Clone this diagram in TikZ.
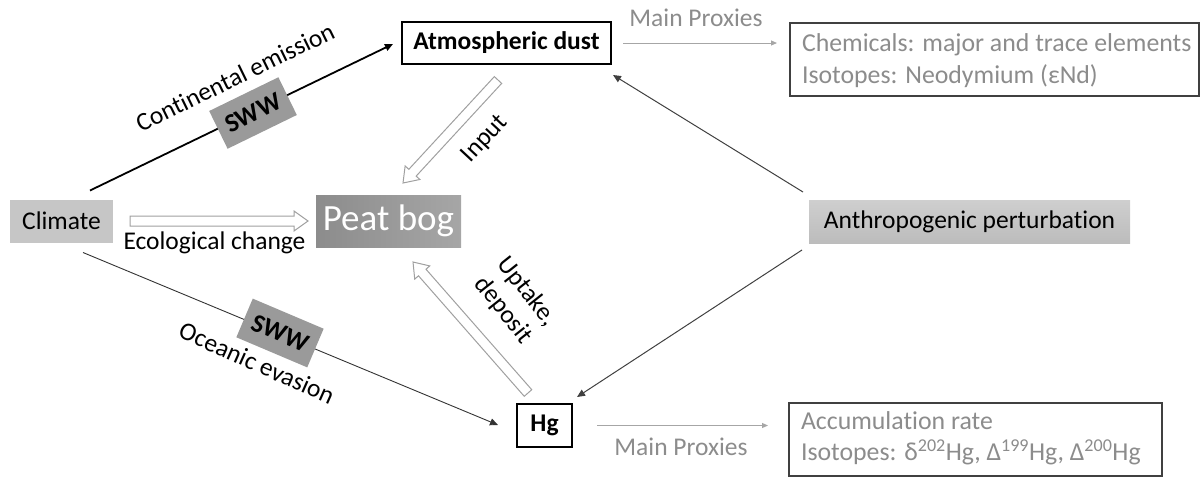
\documentclass[tikz,border=0pt]{standalone}
\usepackage{fontspec}
\setmainfont{Carlito}[Ligatures=NoCommon]
\usetikzlibrary{calc,arrows.meta}
\definecolor{boxgray}{HTML}{C6C6C6}
\definecolor{peatL}{HTML}{8C8C8C}
\definecolor{peatR}{HTML}{A6A6A6}
\definecolor{swwgray}{HTML}{9A9A9A}
\definecolor{proxytext}{HTML}{8C8C8C}
\definecolor{proxyline}{HTML}{A6A6A6}
\definecolor{hollowline}{HTML}{A0A0A0}
\newcommand{\hollowarr}[2]{%
  \coordinate (ha-s) at #1;
  \coordinate (ha-e) at #2;
  \coordinate (ha-h) at ($(ha-e)!14pt!(ha-s)$);
  \draw[hollow] ($(ha-s)!5pt!90:(ha-e)$) -- ($(ha-h)!5pt!-90:(ha-s)$) -- ($(ha-h)!10pt!-90:(ha-s)$) -- (ha-e) -- ($(ha-h)!10pt!90:(ha-s)$) -- ($(ha-h)!5pt!90:(ha-s)$) -- ($(ha-s)!5pt!-90:(ha-e)$) -- cycle;}
\begin{document}
\begin{tikzpicture}[x=1pt,y=-1pt,
  font=\fontsize{25.5}{30}\selectfont,
  every node/.style={inner sep=0pt, outer sep=0pt},
  graybox/.style={fill=boxgray, minimum height=43pt, text=black},
  whitebox/.style={draw=black, line width=1.1pt, fill=white, minimum height=42pt, font=\fontsize{25.5}{28}\selectfont\bfseries},
  proxybox/.style={draw=black!75, line width=1.1pt, fill=white, minimum height=73pt, anchor=west},
  proxytxt/.style={align=left, text=proxytext, anchor=west, font=\fontsize{25.8}{31.5}\selectfont},
  swwbox/.style={fill=swwgray, minimum width=77pt, minimum height=42pt, font=\fontsize{26}{28}\selectfont\bfseries},
  hollow/.style={draw=hollowline, line width=1pt, fill=white, line join=miter},
  thinarrow/.style={-{Triangle[length=8pt,width=7pt]}},
  proxyarrow/.style={draw=proxyline, line width=1pt, -{Triangle[length=6pt,width=5pt]}},
  lbl/.style={text=black}
]
\useasboundingbox (0,0) rectangle (1203,477);

% nodes
\node[graybox, minimum width=103pt] (climate) at (61.5,221) {Climate};
\node[minimum width=145pt, minimum height=52pt, left color=peatL, right color=peatR, text=white, font=\fontsize{37}{40}\selectfont] (peat) at (388.5,221) {Peat bog};
\node[whitebox, minimum width=209pt] (dust) at (506.5,43) {Atmospheric dust};
\node[proxybox, minimum width=409pt] (chem) at (790,59.5) {};
\node[proxytxt] (chemtxt) at ($(chem.west)+(12,1)$) {Chemicals: major and trace elements\\Isotopes: Neodymium (εNd)};
\node[graybox, minimum width=321pt, top color=boxgray!85!white, bottom color=boxgray!95!black] (anthro) at (969.5,221.5) {Anthropogenic perturbation};
\node[whitebox, minimum width=55pt, minimum height=43pt] (hg) at (544.5,425.5) {Hg};
\node[proxybox, minimum width=373pt] (accum) at (789,439.5) {};
\node[proxytxt] (accumtxt) at ($(accum.west)+(12,-1)$) {Accumulation rate\\Isotopes: δ\textsuperscript{202}Hg, Δ\textsuperscript{199}Hg, Δ\textsuperscript{200}Hg};

% thin connectors
\draw[thinarrow, line width=1.8pt] ($(climate.north)+(28.5,-9)$) -- ($(dust.west)+(-9,1)$);
\draw[thinarrow, line width=0.9pt, draw=black!80] ($(climate.south)+(21.5,10)$) -- ($(hg.west)+(-19,-0.5)$);
\draw[thinarrow, line width=1pt, draw=black!75] ($(anthro.north west)+(-6,-8)$) -- ($(dust.south east)+(2,11)$);
\draw[thinarrow, line width=1pt, draw=black!75] ($(anthro.south west)+(-7,7)$) -- ($(hg.north east)+(5,-7)$);
\draw[proxyarrow] ($(dust.east)+(12,0)$) -- ($(chem.west|-dust.east)+(-13,0)$);
\draw[proxyarrow] ($(hg.east)+(25,0)$) -- ($(accum.west|-hg.east)+(-21,0)$);

% SWW boxes on the lines
\node[swwbox, rotate=26] (sww1) at (253,113) {SWW};
\node[swwbox, rotate=-23] (sww2) at (280,333) {SWW};

% hollow arrows
\hollowarr{($(climate.east)+(17,0)$)}{($(peat.west)+(-8,0)$)}
\hollowarr{($(dust.south)+(-8.5,16)$)}{($(peat.north)+(14.5,-12)$)}
\hollowarr{($(hg.north)+(-16.5,-11)$)}{($(peat.south east)+(-48,15)$)}

% labels
\node[lbl, rotate=26] (lcont) at (235,77) {Continental emission};
\node[lbl, rotate=-24] (locean) at (257,363) {Oceanic evasion};
\node[lbl] (leco) at (214.5,243) {Ecological change};
\node[lbl, rotate=47] (linput) at (485,139) {Input};
\node[lbl, rotate=-51.5, align=center, font=\fontsize{25.5}{30}\selectfont] (lupt) at (515,301) {Uptake,\\deposit};
\node[text=proxytext] (mp1) at (696,18) {Main Proxies};
\node[text=proxytext] (mp2) at (681,447) {Main Proxies};
\end{tikzpicture}
\end{document}
